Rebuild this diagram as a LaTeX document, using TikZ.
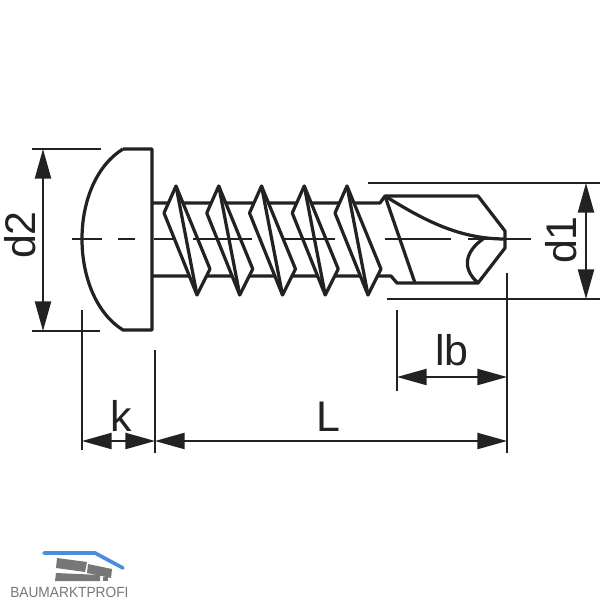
\documentclass[tikz,border=0pt]{standalone}
\usepackage{fontspec}
\setmainfont{Liberation Sans}
\usetikzlibrary{arrows.meta}
\definecolor{inkdark}{HTML}{222222}
\definecolor{logoblue}{HTML}{4C8EDD}
\definecolor{logogray}{HTML}{777777}
\tikzset{
  heavy/.style={line width=2.3pt,draw=inkdark,line join=round},
  thin line/.style={line width=1.1pt,draw=inkdark},
  dimline/.style={thin line,{Triangle[length=21pt,width=11.5pt]}-{Triangle[length=21pt,width=11.5pt]}},
  dimlabel/.style={font=\fontsize{30.5}{30.5}\selectfont,text=inkdark,inner sep=0pt,anchor=base},
  block/.style={fill=logogray,draw=none}
}
\begin{document}
\begin{tikzpicture}[x=0.025cm,y=-0.025cm]
\useasboundingbox (0,0) rectangle (600,600);
      %shank
      \draw[heavy] (152,203) -- (380,203) -- (385,196) -- (478,196) -- (505,231) -- (505,248) -- (478,283) -- (397,283) -- (391,276) -- (152,276);
      %thread
\foreach \x in {0,42.75,85.5,128.25,171} {
    \draw[heavy,fill=white] (176+\x,186) -- (210+\x,269) -- (197+\x,295) -- (164+\x,213) -- cycle;
    \draw[heavy] (176+\x,186) -- (197+\x,295);
}
      %head
      \draw[heavy] (123,149) -- (152,149) -- (152,330) -- (123,330) .. controls (97,314) and (82,278) .. (82,239) .. controls (82,200) and (97,165) .. (123,149);
      %drill tip
      \draw[heavy] (385,196) -- (415,283);
      \draw[heavy] (385,196) .. controls (425,221) and (460,239) .. (505,239);
      \draw[heavy] (483,239) .. controls (470,248) and (458,265) .. (478,283);
      %centre line
\foreach \a/\b in {72/102,118/135,154/173,193/252,283/335,385/451,468/531} {
    \draw[thin line] (\a,239) -- (\b,239);
}
      %extension lines
      \draw[thin line] (32,149) -- (101,149);
      \draw[thin line] (32,331) -- (100,331);
      \draw[thin line] (368,183) -- (600,183);
      \draw[thin line] (387,299) -- (600,299);
      \draw[thin line] (82,310) -- (82,450);
      \draw[thin line] (155,350) -- (155,453);
      \draw[thin line] (397,310) -- (397,391);
      \draw[thin line] (507,273) -- (507,453);
      %dimensions
      \coordinate (dtwotop) at (43,149);
      \coordinate (dtwobot) at (43,331);
      \coordinate (donetop) at (586,183);
      \coordinate (donebot) at (586,299);
      \coordinate (kleft) at (82,441);
      \coordinate (kright) at (155,441);
      \coordinate (lleft) at (155,441);
      \coordinate (lright) at (507,441);
      \coordinate (lbleft) at (397,377);
      \coordinate (lbright) at (507,377);
      \draw[dimline] (dtwotop) -- (dtwobot);
      \draw[dimline] (donetop) -- (donebot);
      \draw[dimline] (kleft) -- (kright);
      \draw[dimline] (lleft) -- (lright);
      \draw[dimline] (lbleft) -- (lbright);
      \node[dimlabel,rotate=90] (labeldtwo) at (35,235) {d2};
      \node[dimlabel,rotate=90] (labeldone) at (576,240) {d1};
      \node[dimlabel] (labelk) at (121,431) {k};
      \node[dimlabel] (labell) at (328,431) {L};
      \node[dimlabel] (labellb) at (452,365) {lb};
      %logo
      \draw[line width=2.6pt,draw=logoblue,line cap=round,line join=round] (44,553) -- (95,553) -- (123,568);
      \fill[block] (57,558) -- (87,562) -- (85,572) -- (56,568) -- cycle;
      \fill[block] (88,564) -- (112,569) -- (111,578) -- (87,573) -- cycle;
      \fill[block] (56,573) -- (100,575) -- (100,581) -- (55,581) -- cycle;
      \fill[block] (103,577) -- (108,577) -- (108,581) -- (103,581) -- cycle;
      \node[inner sep=0pt,anchor=base west,xscale=0.93,text=logogray,font=\fontsize{10.5}{10.5}\selectfont] (logotext) at (10,597) {BAUMARKTPROFI};
\end{tikzpicture}
\end{document}
